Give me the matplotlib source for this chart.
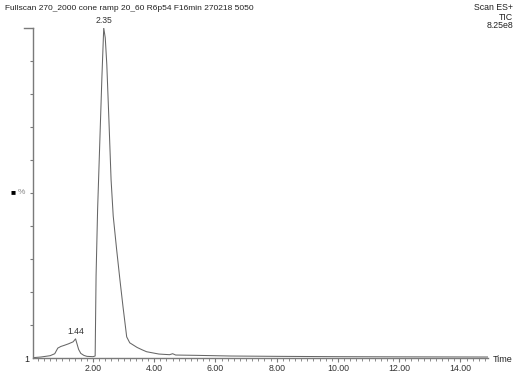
import numpy as np
import matplotlib
matplotlib.use("Agg")
import matplotlib.pyplot as plt
from matplotlib.ticker import MultipleLocator, FixedLocator

plt.rcParams['font.family'] = ['Liberation Sans', 'DejaVu Sans']

# chromatogram trace, retention time (min) vs relative intensity (%)
times = [0.04, 0.3, 0.6, 0.75, 0.85, 0.95, 1.05, 1.2, 1.35, 1.43, 1.48, 1.53, 1.6, 1.7,
         1.8, 2.0, 2.07, 2.10, 2.15, 2.22, 2.29, 2.35, 2.40, 2.45, 2.52, 2.59,
         2.66, 2.77, 2.88, 2.98, 3.10, 3.2, 3.44, 3.6, 3.75, 4.15, 4.5, 4.6, 4.7, 5.4,
         6.5, 8.0, 10.0, 12.0, 14.9]
intensity = [0.1, 0.3, 0.7, 1.3, 3.0, 3.5, 3.8, 4.3, 4.9, 5.8, 4.2, 2.6, 1.4, 0.8,
             0.5, 0.4, 0.6, 25, 45, 65, 85, 100, 97, 89, 72, 54,
             43, 33, 23.6, 15.5, 6.4, 4.6, 3.2, 2.5, 1.9, 1.2, 1.0, 1.3, 0.9, 0.8,
             0.6, 0.5, 0.4, 0.35, 0.3]

peak_labels = ["1.44", "2.35"]
peak_times = [1.43, 2.35]
peak_heights = [5.8, 100]

xticks = [2, 4, 6, 8, 10, 12, 14]

fig = plt.figure(figsize=(5.22, 3.72), dpi=100)
ax = fig.add_axes([33 / 522, 1 - 358 / 372, (488 - 33) / 522, (358 - 28) / 372])

grey = '#7a7a7a'
ax.plot(times, intensity, color='#666666', lw=0.75)

ax.set_xlim(0.04, 14.9)
ax.set_ylim(0, 100)

for s in ['top', 'right']:
    ax.spines[s].set_visible(False)
for s in ['left', 'bottom']:
    ax.spines[s].set_color(grey)
    ax.spines[s].set_linewidth(1.0)

ax.xaxis.set_major_locator(FixedLocator(xticks))
ax.set_xticklabels(["%.2f" % t for t in xticks])
ax.xaxis.set_minor_locator(MultipleLocator(0.2))
ax.tick_params(axis='x', which='major', direction='out', length=3, color=grey,
               labelsize=6.3, labelcolor='#333333', pad=1)
ax.tick_params(axis='x', which='minor', direction='out', length=2, color=grey)

ax.set_yticks(np.arange(10, 100, 10))
ax.set_yticklabels([])
ax.tick_params(axis='y', which='major', direction='out', length=2, color=grey)

# top bracket tick
ax.plot([-0.02, 0], [100, 100], transform=ax.get_yaxis_transform(), color=grey,
        lw=1.0, clip_on=False)

for lab, t, h in zip(peak_labels, peak_times, peak_heights):
    ax.annotate(lab, (t, h), xytext=(0, 2), textcoords='offset points',
                ha='center', va='bottom', fontsize=6.2, color='#333333')

fig.text(5 / 522, 1 - 8 / 372, "Fullscan 270_2000 cone ramp 20_60 R6p54 F16min 270218 5050",
         ha='left', va='center', fontsize=6.0, color='#222222')
fig.text(513 / 522, 1 - 8 / 372, "Scan ES+", ha='right', va='center', fontsize=6.3, color='#222222')
fig.text(513 / 522, 1 - 17 / 372, "TIC", ha='right', va='center', fontsize=6.3, color='#222222')
fig.text(513 / 522, 1 - 25 / 372, "8.25e8", ha='right', va='center', fontsize=6.3, color='#222222')
fig.text(493 / 522, 1 - 359 / 372, "Time", ha='left', va='center', fontsize=6.5, color='#222222')
fig.text(29 / 522, 1 - 359 / 372, "1", ha='right', va='center', fontsize=6.5, color='#222222')
fig.text(13 / 522, 1 - 193 / 372, "■", ha='center', va='center', fontsize=6, color='black')
fig.text(21 / 522, 1 - 193 / 372, "%", ha='center', va='center', fontsize=6, color='#888888')

fig.savefig('out.png', dpi=100)
